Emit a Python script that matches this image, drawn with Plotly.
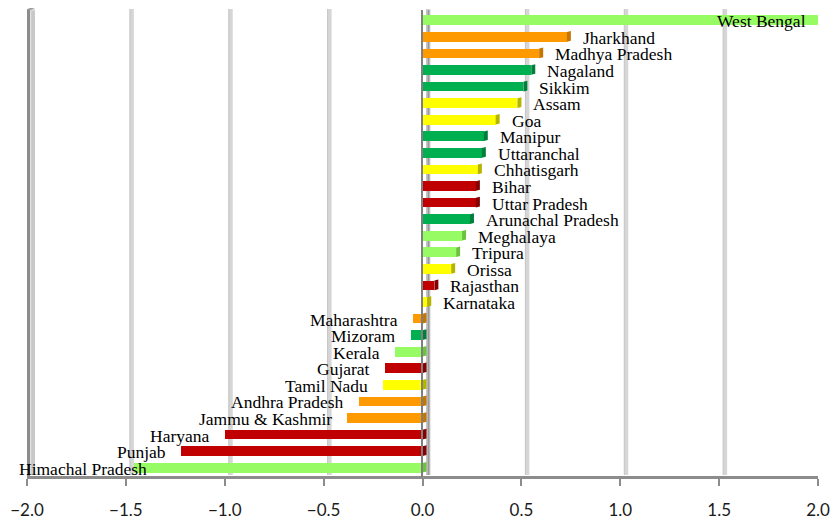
import plotly.graph_objects as go

# State-wise index values (top to bottom)
states = [
    "West Bengal", "Jharkhand", "Madhya Pradesh", "Nagaland", "Sikkim", "Assam",
    "Goa", "Manipur", "Uttaranchal", "Chhatisgarh", "Bihar", "Uttar Pradesh",
    "Arunachal Pradesh", "Meghalaya", "Tripura", "Orissa", "Rajasthan", "Karnataka",
    "Maharashtra", "Mizoram", "Kerala", "Gujarat", "Tamil Nadu", "Andhra Pradesh",
    "Jammu & Kashmir", "Haryana", "Punjab", "Himachal Pradesh",
]
values = [
    2.00, 0.73, 0.59, 0.55, 0.51, 0.48,
    0.37, 0.31, 0.30, 0.28, 0.27, 0.27,
    0.24, 0.20, 0.17, 0.145, 0.06, 0.024,
    -0.05, -0.06, -0.14, -0.19, -0.20, -0.32,
    -0.38, -1.00, -1.22, -1.46,
]
groups = [
    "lg", "or", "or", "gr", "gr", "ye",
    "ye", "gr", "gr", "ye", "rd", "rd",
    "gr", "lg", "lg", "ye", "rd", "ye",
    "or", "gr", "lg", "rd", "ye", "or",
    "or", "rd", "rd", "lg",
]
x_ticks = [-2.0, -1.5, -1.0, -0.5, 0.0, 0.5, 1.0, 1.5, 2.0]

face = {"lg": "#97FB63", "or": "#FF9900", "gr": "#00B050", "ye": "#FFFF00", "rd": "#C00000"}
side = {"lg": "#6CC43E", "or": "#C47600", "gr": "#007F3A", "ye": "#B5B500", "rd": "#850000"}

W, H = 833, 522
L, R, T, B = 27, 15, 12, 46
XMIN, XMAX = x_ticks[0], x_ticks[-1]
ppu = (W - L - R) / (XMAX - XMIN)          # pixels per unit along x
plot_h = H - T - B
bar_w = 0.58
bar_px = bar_w * plot_h / len(states)
depth = 5                                   # 3-D depth offset in pixels
label_size = 17.5

idx = list(range(len(states)))

fig = go.Figure()
fig.add_trace(go.Bar(
    x=values, y=idx, orientation="h", width=bar_w,
    marker=dict(color=[face[g] for g in groups], line=dict(width=0)),
    hoverinfo="text", hovertext=states, showlegend=False,
))

shapes = []
# back-wall gridlines (shifted by the 3-D depth)
for t in x_ticks:
    shapes.append(dict(type="rect", layer="below", xref="x", yref="paper",
                       xsizemode="pixel", ysizemode="pixel", xanchor=t, yanchor=1,
                       x0=depth - 1, x1=depth + 3, y0=-plot_h + 1, y1=3,
                       fillcolor="#d6d6d6", line=dict(width=0)))
    shapes.append(dict(type="line", layer="below", xref="x", yref="paper",
                       xsizemode="pixel", ysizemode="pixel", xanchor=t, yanchor=1,
                       x0=depth - 1, x1=depth - 1, y0=-plot_h + 1, y1=3,
                       line=dict(color="#c4c4c4", width=1)))

# left wall
shapes.append(dict(type="rect", layer="above", xref="x", yref="paper",
                   xsizemode="pixel", ysizemode="pixel", xanchor=XMIN, yanchor=1,
                   x0=-2, x1=3, y0=-plot_h - 2, y1=2,
                   fillcolor="#8c8c8c", line=dict(width=0)))
shapes.append(dict(type="rect", layer="above", xref="x", yref="paper",
                   xsizemode="pixel", ysizemode="pixel", xanchor=XMIN, yanchor=1,
                   x0=5, x1=8, y0=-plot_h + 1, y1=1,
                   fillcolor="#c8c8c8", line=dict(width=0)))
shapes.append(dict(type="path", layer="above", xref="x", yref="paper",
                   xsizemode="pixel", ysizemode="pixel", xanchor=XMIN, yanchor=1,
                   path="M-2,2 L3,2 L8,4 L3,4 Z",
                   fillcolor="#9a9a9a", line=dict(width=0)))

# zero plane: back edge below the bars
shapes.append(dict(type="line", layer="below", xref="x", yref="paper",
                   xsizemode="pixel", ysizemode="pixel", xanchor=0, yanchor=1,
                   x0=depth + 1, x1=depth + 1, y0=-plot_h + 1, y1=2,
                   line=dict(color="#9a9a9a", width=2)))

# bar end caps giving the 3-D depth
for i, (v, g) in enumerate(zip(values, groups)):
    anchor = v if v > 0 else 0
    shapes.append(dict(type="path", layer="above", xref="x", yref="y",
                       xsizemode="pixel", ysizemode="pixel", xanchor=anchor, yanchor=i,
                       path=f"M0,{-bar_px/2} L0,{bar_px/2} L{depth-1},{bar_px/2+1} "
                            f"L{depth-1},{-bar_px/2+1} Z",
                       fillcolor=side[g], line=dict(width=0)))

# zero plane: front edge above the bars
shapes.append(dict(type="line", layer="above", xref="x", yref="paper",
                   xsizemode="pixel", ysizemode="pixel", xanchor=0, yanchor=1,
                   x0=-0.5, x1=-0.5, y0=-plot_h - 1, y1=2,
                   line=dict(color="#7f7f7f", width=2)))

# state labels beside each bar
annotations = []
char_px = 0.47 * label_size
for i, (s, v) in enumerate(zip(states, values)):
    a = dict(text=s, y=i, yref="y", showarrow=False, yshift=-1,
             font=dict(family="Liberation Serif", size=label_size, color="#000000"))
    if v >= XMAX - 0.05:
        a.update(x=v, xref="x", xanchor="right", xshift=-10)
    elif v >= 0:
        a.update(x=v, xref="x", xanchor="left", xshift=14)
    else:
        left_px = (v - XMIN) * ppu - 15 - len(s) * char_px
        if left_px < -10:
            a.update(x=0, xref="paper", xanchor="left", xshift=-10)
        else:
            a.update(x=v, xref="x", xanchor="right", xshift=-13)
    annotations.append(a)

fig.update_layout(
    width=W, height=H,
    margin=dict(l=L, r=R, t=T, b=B, pad=0),
    paper_bgcolor="white", plot_bgcolor="white",
    bargap=0,
    xaxis=dict(range=[XMIN, XMAX], tickvals=x_ticks, tickformat=".1f",
               showgrid=False, zeroline=False, automargin=False,
               showline=True, linecolor="#8c8c8c", linewidth=3,
               ticks="outside", ticklen=7, tickwidth=2, tickcolor="#8c8c8c",
               ticklabelstandoff=10,
               tickfont=dict(family="Lato", size=17, color="#1a1a1a")),
    yaxis=dict(range=[len(states) - 0.5, -0.5], visible=False, automargin=False),
    shapes=shapes,
    annotations=annotations,
)

fig.write_html("out.html")
